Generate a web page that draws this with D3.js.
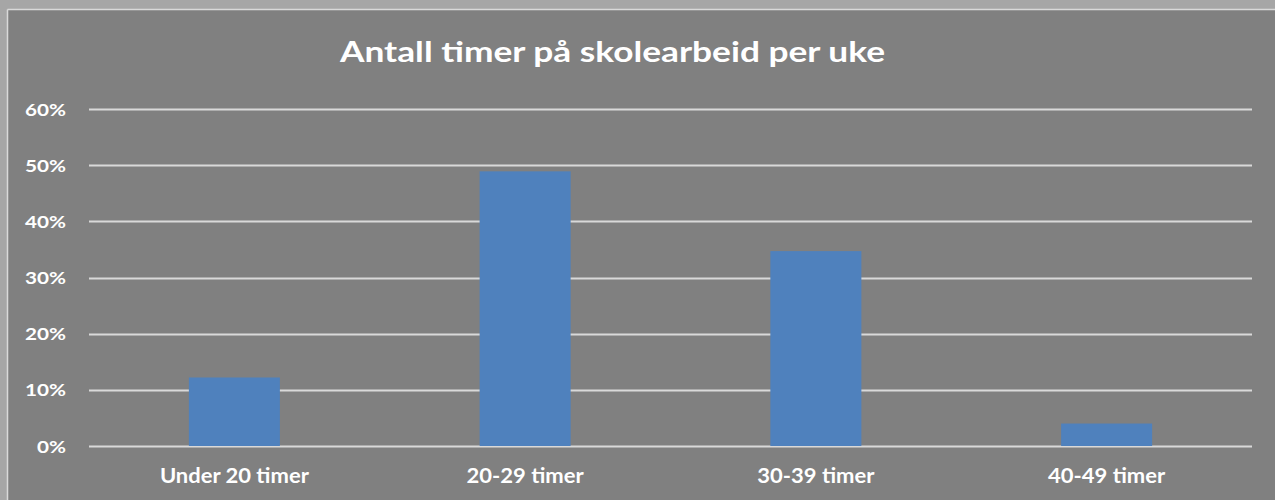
<!DOCTYPE html>
<html>
<head>
<meta charset="utf-8">
<script src="https://cdn.jsdelivr.net/npm/d3@7"></script>
<style>
  html, body { margin: 0; padding: 0; background: #a6a6a6; }
  svg { display: block; }
  text { font-family: Lato, "Open Sans", sans-serif; font-weight: bold; fill: #ffffff; }
</style>
</head>
<body>
<svg id="chart" width="1275" height="500"></svg>
<script>
const categories = ["Under 20 timer", "20-29 timer", "30-39 timer", "40-49 timer"];
const values = [0.122, 0.489, 0.347, 0.040];
const yTicks = [0, 0.1, 0.2, 0.3, 0.4, 0.5, 0.6];
const title = "Antall timer på skolearbeid per uke";

(function () {
const W = 1275, H = 500;
const svg = d3.select("#chart");

// horizontally widen a text selection so its reference item reaches a target width
function widen(sel, refNode, target) {
  const k = target / refNode.getComputedTextLength();
  sel.each(function () {
    const w = this.getComputedTextLength();
    d3.select(this).attr("textLength", w * k).attr("lengthAdjust", "spacingAndGlyphs");
  });
}

// outer frame
svg.append("rect").attr("x", 0).attr("y", 0).attr("width", W).attr("height", H).attr("fill", "#a6a6a6");
svg.append("rect").attr("x", 8).attr("y", 10).attr("width", W - 8).attr("height", H - 10)
  .attr("fill", "#808080");
svg.append("line").attr("x1", 7.5).attr("x2", 7.5).attr("y1", 9.5).attr("y2", H).attr("stroke", "#d9d9d9").attr("stroke-width", 1.5);
svg.append("line").attr("x1", 7.5).attr("x2", W).attr("y1", 9.5).attr("y2", 9.5).attr("stroke", "#d9d9d9").attr("stroke-width", 1.5);

const pLeft = 89, pRight = 1252, pTop = 109, pBottom = 446;
const x = d3.scaleBand().domain(categories).range([pLeft, pRight]).paddingInner(0.687).paddingOuter(0.3435);
const y = d3.scaleLinear().domain([0, 0.6]).range([pBottom, pTop]);

// gridlines
svg.append("g").selectAll("line").data(yTicks).join("line")
  .attr("x1", pLeft).attr("x2", pRight)
  .attr("y1", d => Math.round(y(d)) + 0.5).attr("y2", d => Math.round(y(d)) + 0.5)
  .attr("stroke", "#d9d9d9").attr("stroke-width", 2);

// y axis labels
const yAxis = d3.axisLeft(y).tickValues(yTicks).tickFormat(d3.format(".0%")).tickSize(0).tickPadding(0);
const gy = svg.append("g").attr("transform", `translate(66,0)`).call(yAxis);
gy.select(".domain").remove();
const yt = gy.selectAll("text").attr("font-size", 17).attr("fill", "#ffffff").attr("dy", "0.36em")
  .style("font-family", "Lato, 'Open Sans', sans-serif").style("font-weight", "bold");
widen(yt, yt.nodes()[yt.size() - 1], 41);

// bars
svg.append("g").selectAll("rect").data(values).join("rect")
  .attr("x", (d, i) => x(categories[i]))
  .attr("width", x.bandwidth())
  .attr("y", d => y(d))
  .attr("height", d => y(0) - y(d))
  .attr("fill", "#4f81bd");

// x axis labels
const xAxis = d3.axisBottom(x).tickSize(0).tickPadding(0);
const gx = svg.append("g").attr("transform", `translate(0,${pBottom})`).call(xAxis);
gx.select(".domain").remove();
const xt = gx.selectAll("text").attr("font-size", 20).attr("fill", "#ffffff").attr("y", 37).attr("dy", 0)
  .style("font-family", "Lato, 'Open Sans', sans-serif").style("font-weight", "bold");
widen(xt, xt.nodes()[0], 149);

// title
const tt = svg.append("text").attr("x", 612.5).attr("y", 62).attr("text-anchor", "middle")
  .attr("font-size", 28).text(title);
widen(tt, tt.node(), 545);
})();
</script>
</body>
</html>
